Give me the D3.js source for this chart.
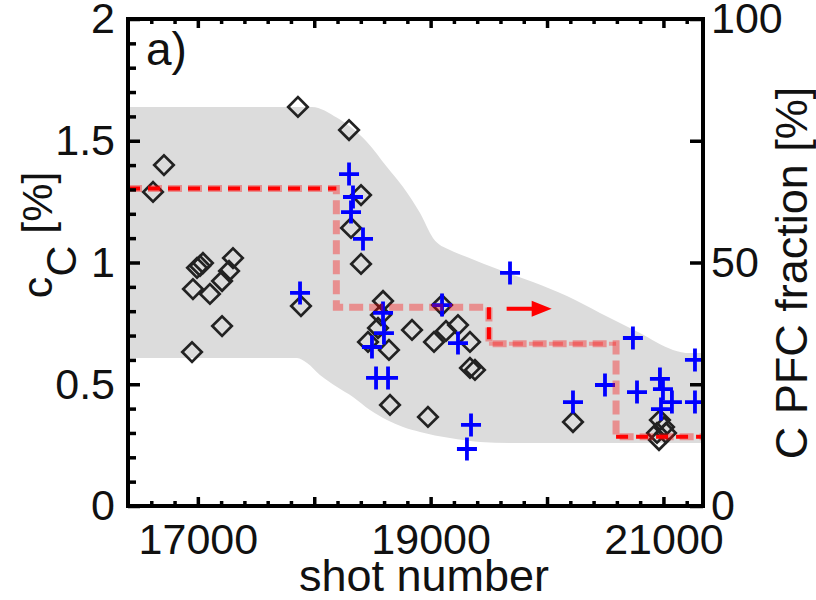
<!DOCTYPE html>
<html>
<head>
<meta charset="utf-8">
<script src="https://cdn.jsdelivr.net/npm/d3@7"></script>
<style>
  body { margin: 0; background: #fff; }
  text { font-family: "Liberation Sans", Arial, sans-serif; fill: #111; }
</style>
</head>
<body>
<div id="chart"></div>
<script>
// carbon concentration, open diamonds
var diamondShot = [16615, 16709, 16993, 17044, 17019, 17302, 17268, 16958, 17104, 17208, 17208, 16950,
  17860, 17886, 18299, 18402, 18316, 18402, 18591, 18573, 18548, 18462, 18642, 18840, 18651,
  19029, 19132, 19235, 19098, 19338, 19338, 19381, 18977, 20223, 20970, 21005, 20945, 21022, 20962];
var diamondConc = [1.29, 1.40, 0.978, 0.998, 0.986, 1.018, 0.965, 0.891, 0.871, 0.924, 0.739, 0.632,
  1.639, 0.821, 1.544, 1.277, 1.142, 0.994, 0.842, 0.784, 0.731, 0.674, 0.641, 0.723, 0.415,
  0.674, 0.719, 0.743, 0.825, 0.674, 0.567, 0.559, 0.366, 0.345, 0.353, 0.324, 0.300, 0.300, 0.271];

// second set, blue crosses
var crossShot = [17878, 18299, 18333, 18316, 18419, 18591, 18599, 18496, 18531, 18634, 19098, 19235,
  19347, 19312, 19682, 20223, 20498, 20738, 20773, 20970, 20996, 21073, 20979, 21271, 21271];
var crossConc = [0.875, 1.363, 1.269, 1.207, 1.097, 0.793, 0.710, 0.653, 0.526, 0.526, 0.825, 0.669,
  0.333, 0.234, 0.957, 0.427, 0.497, 0.690, 0.468, 0.522, 0.480, 0.427, 0.398, 0.427, 0.600];

// grey band
var bandUpperShot = [16400, 17981, 18196, 18453, 18625, 18763, 18909, 19020, 19166, 19312, 19596, 19879, 20171, 20455, 20798, 21082, 21228, 21340];
var bandUpper = [1.639, 1.639, 1.594, 1.495, 1.392, 1.310, 1.203, 1.101, 1.051, 1.023, 0.969, 0.920, 0.862, 0.793, 0.710, 0.641, 0.628, 0.628];
var bandLowerShot = [16400, 17852, 17938, 18049, 18196, 18333, 18479, 18625, 18763, 18909, 19166, 19424, 19682, 21340];
var bandLower = [0.608, 0.608, 0.587, 0.538, 0.489, 0.448, 0.394, 0.353, 0.324, 0.304, 0.279, 0.263, 0.259, 0.259];

// C PFC fraction step (right axis, %)
var stepEdges = [16400, 18190, 19501, 20593, 21340];
var stepFraction = [65.2, 40.8, 33.3, 14.2];
var arrowShot = [19653, 20040];
var arrowFraction = 40.5;

var xTicksMajor = [17000, 18000, 19000, 20000, 21000];
var xTickLabels = [17000, 19000, 21000];
var yTicksMajor = [0, 0.5, 1, 1.5, 2];
var yRightTicks = [0, 25, 50, 75, 100];
var yRightLabels = [0, 50, 100];

var W = 816, H = 600;
var plotLeft = 128, plotRight = 703, plotTop = 19, plotBottom = 506;

var svg = d3.select("#chart").append("svg")
  .attr("width", W).attr("height", H);

var x = d3.scaleLinear().domain([16400, 21340]).range([plotLeft, plotRight]);
var y = d3.scaleLinear().domain([0, 2]).range([plotBottom, plotTop]);
var yR = d3.scaleLinear().domain([0, 100]).range([plotBottom, plotTop]);

// band: smooth upper edge, then lower edge back
var smooth = d3.line().curve(d3.curveMonotoneX);
var upperPts = bandUpperShot.map(function(s, i) { return [x(s), y(bandUpper[i])]; });
var lowerPts = bandLowerShot.map(function(s, i) { return [x(s), y(bandLower[i])]; }).reverse();
var bandPath = smooth(upperPts) + "L" + smooth(lowerPts).slice(1) + "Z";
svg.append("path")
  .attr("d", bandPath)
  .attr("fill", "#dcdcdc");

// diamonds
var diamond = d3.symbol().type(d3.symbolSquare).size(190);
svg.append("g").selectAll("path")
  .data(diamondShot)
  .enter().append("path")
  .attr("d", diamond)
  .attr("transform", function(d, i) { return "translate(" + x(d) + "," + y(diamondConc[i]) + ") rotate(45)"; })
  .attr("fill", "none")
  .attr("stroke", "#222")
  .attr("stroke-width", 2.7);

// crosses
svg.append("g").selectAll("path")
  .data(crossShot)
  .enter().append("path")
  .attr("d", "M-10,0H10M0,-11.5V11.5")
  .attr("transform", function(d, i) { return "translate(" + x(d) + "," + y(crossConc[i]) + ")"; })
  .attr("fill", "none")
  .attr("stroke", "#0000ff")
  .attr("stroke-width", 3.8);

// step line
var stepPts = [];
stepFraction.forEach(function(v, i) {
  stepPts.push([x(stepEdges[i]), yR(v)]);
  stepPts.push([x(stepEdges[i + 1]), yR(v)]);
});
svg.append("path")
  .attr("d", d3.line()(stepPts))
  .attr("fill", "none")
  .attr("stroke", "#ff0000")
  .attr("stroke-opacity", 0.35)
  .attr("stroke-width", 7)
  .attr("stroke-dasharray", "14,6");

// third level a bit stronger
svg.append("path")
  .attr("d", d3.line()([[x(stepEdges[2]), yR(stepFraction[2])], [x(stepEdges[3]), yR(stepFraction[2])]]))
  .attr("fill", "none")
  .attr("stroke", "#ff0000")
  .attr("stroke-opacity", 0.3)
  .attr("stroke-width", 4)
  .attr("stroke-dasharray", "14,6");

// stronger red parts: first and last level, and the middle drop
var redPieces = [
  [[x(stepEdges[0]), yR(stepFraction[0])], [x(stepEdges[1]), yR(stepFraction[0])]],
  [[x(stepEdges[2]), yR(stepFraction[1])], [x(stepEdges[2]), yR(stepFraction[2])]],
  [[x(stepEdges[3]), yR(stepFraction[3])], [x(stepEdges[4]), yR(stepFraction[3])]]
];
svg.append("g").selectAll("path")
  .data(redPieces)
  .enter().append("path")
  .attr("d", function(d) { return d3.line()(d); })
  .attr("fill", "none")
  .attr("stroke", "#ff0000")
  .attr("stroke-width", 4)
  .attr("stroke-dasharray", "12,8");

// arrow pointing to right axis
var ax0 = x(arrowShot[0]), ax1 = x(arrowShot[1]), ay = yR(arrowFraction);
svg.append("line")
  .attr("x1", ax0).attr("x2", ax1 - 10).attr("y1", ay).attr("y2", ay)
  .attr("stroke", "#ff0000").attr("stroke-width", 4);
svg.append("path")
  .attr("d", "M" + (ax1 - 20) + "," + (ay - 8) + "L" + ax1 + "," + ay + "L" + (ax1 - 20) + "," + (ay + 8) + "Z")
  .attr("fill", "#ff0000");

// axes
function styleAxis(g) {
  g.select(".domain").remove();
  g.selectAll("line").attr("stroke", "#000").attr("stroke-width", 3.5);
  g.selectAll("text").style("font-size", "43px").attr("fill", "#111");
}

var xMinor = d3.range(16600, 21340, 200).filter(function(v) { return v % 1000 !== 0; });

svg.append("g").attr("transform", "translate(0," + plotBottom + ")")
  .call(d3.axisBottom(x).tickValues(xMinor).tickSize(-5).tickFormat(""))
  .call(styleAxis);
svg.append("g").attr("transform", "translate(0," + plotBottom + ")")
  .call(d3.axisBottom(x).tickValues(xTicksMajor).tickSize(-9).tickPadding(17)
    .tickFormat(function(d) { return xTickLabels.indexOf(d) >= 0 ? d : ""; }))
  .call(styleAxis);
svg.append("g").attr("transform", "translate(0," + plotTop + ")")
  .call(d3.axisTop(x).tickValues(xMinor).tickSize(-5).tickFormat(""))
  .call(styleAxis);
svg.append("g").attr("transform", "translate(0," + plotTop + ")")
  .call(d3.axisTop(x).tickValues(xTicksMajor).tickSize(-9).tickFormat(""))
  .call(styleAxis);

var yMinor = d3.range(0.1, 2, 0.1).filter(function(v) { return Math.abs(v * 2 - Math.round(v * 2)) > 1e-6; });
svg.append("g").attr("transform", "translate(" + plotLeft + ",0)")
  .call(d3.axisLeft(y).tickValues(yMinor).tickSize(-8).tickFormat(""))
  .call(styleAxis);
svg.append("g").attr("transform", "translate(" + plotLeft + ",0)")
  .call(d3.axisLeft(y).tickValues(yTicksMajor).tickSize(-12).tickPadding(13).tickFormat(d3.format("")))
  .call(styleAxis);

svg.append("g").attr("transform", "translate(" + plotRight + ",0)")
  .call(d3.axisRight(yR).tickValues(yRightTicks).tickSize(-13).tickPadding(8)
    .tickFormat(function(d) { return yRightLabels.indexOf(d) >= 0 ? d : ""; }))
  .call(styleAxis);

// frame
svg.append("rect")
  .attr("x", plotLeft).attr("y", plotTop)
  .attr("width", plotRight - plotLeft).attr("height", plotBottom - plotTop)
  .attr("fill", "none").attr("stroke", "#000").attr("stroke-width", 4);

// labels
svg.append("text")
  .attr("x", 424).attr("y", 591)
  .attr("text-anchor", "middle")
  .style("font-size", "45px")
  .text("shot number");

svg.append("text")
  .attr("transform", "translate(807," + 273 + ") rotate(-90)")
  .attr("text-anchor", "middle")
  .style("font-size", "45px")
  .text("C PFC fraction [%]");

var yTitle = svg.append("text")
  .attr("transform", "translate(52,235) rotate(-90)")
  .attr("text-anchor", "middle")
  .style("font-size", "43px");
yTitle.append("tspan").text("c");
yTitle.append("tspan").attr("dy", 24).text("C");
yTitle.append("tspan").attr("dy", -24).text(" [%]");

svg.append("text")
  .attr("x", 146).attr("y", 65)
  .style("font-size", "46px")
  .text("a)");
</script>
</body>
</html>
